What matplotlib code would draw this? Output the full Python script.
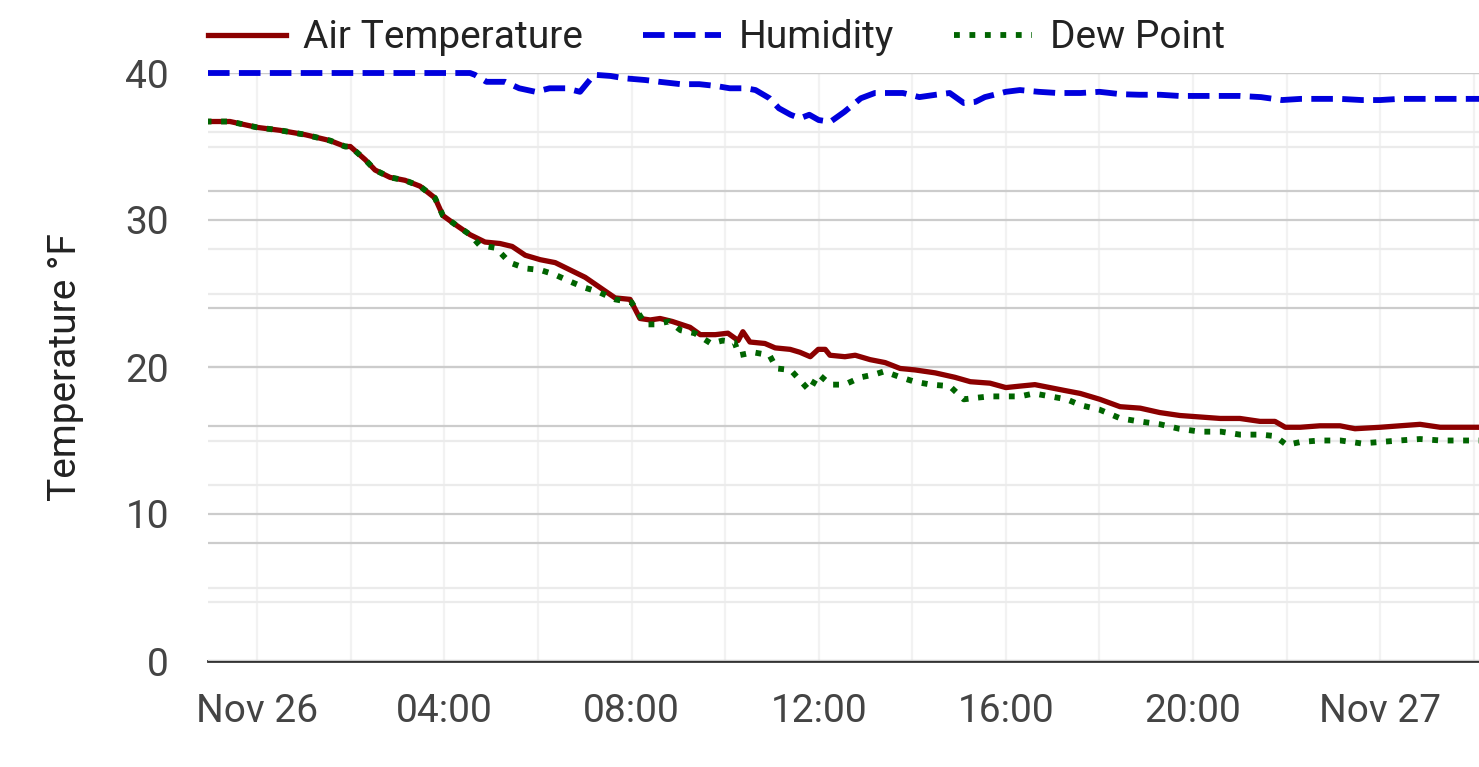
import datetime as dt
import matplotlib
matplotlib.use("Agg")
import matplotlib.pyplot as plt
import matplotlib.dates as mdates
from matplotlib.ticker import MultipleLocator, NullFormatter

plt.rcParams['font.family'] = ['Roboto', 'DejaVu Sans']

# hours after Nov 26 00:00
air_hours = [-1.10, -0.58, 0.00, 0.49, 1.03, 1.56, 1.88, 1.99, 2.31, 2.52, 2.84, 3.16,
             3.48, 3.80, 3.97, 4.23, 4.55, 4.87, 5.19, 5.45, 5.73, 6.05, 6.37, 6.69,
             7.01, 7.33, 7.65, 7.97, 8.18, 8.40, 8.61, 8.87, 9.25, 9.47, 9.79, 10.06,
             10.28, 10.38, 10.53, 10.85, 11.07, 11.39, 11.60, 11.82, 11.99, 12.14, 12.24,
             12.56, 12.78, 13.10, 13.42, 13.74, 14.06, 14.49, 14.91, 15.24, 15.66, 16.00,
             16.30, 16.62, 16.94, 17.26, 17.59, 18.01, 18.44, 18.87, 19.29, 19.72, 20.15,
             20.58, 21.00, 21.43, 21.75, 21.97, 22.29, 22.71, 23.14, 23.46, 24.00, 24.42,
             24.85, 25.28, 25.71, 26.20]
air_temp = [36.7, 36.7, 36.3, 36.1, 35.8, 35.4, 35.0, 35.0, 34.1, 33.4, 32.9, 32.7,
            32.3, 31.5, 30.3, 29.7, 29.0, 28.5, 28.4, 28.2, 27.6, 27.3, 27.1, 26.6,
            26.1, 25.4, 24.7, 24.6, 23.3, 23.2, 23.3, 23.1, 22.7, 22.2, 22.2, 22.3,
            21.8, 22.4, 21.7, 21.6, 21.3, 21.2, 21.0, 20.7, 21.2, 21.2, 20.8,
            20.7, 20.8, 20.5, 20.3, 19.9, 19.8, 19.6, 19.3, 19.0, 18.9, 18.6,
            18.7, 18.8, 18.6, 18.4, 18.2, 17.8, 17.3, 17.2, 16.9, 16.7, 16.6,
            16.5, 16.5, 16.3, 16.3, 15.9, 15.9, 16.0, 16.0, 15.8, 15.9, 16.0,
            16.1, 15.9, 15.9, 15.9]

dew_hours = [-1.10, -0.58, 0.00, 0.49, 1.03, 1.56, 1.88, 1.99, 2.31, 2.52, 2.84, 3.16,
             3.48, 3.80, 3.97, 4.23, 4.55, 4.75, 5.10, 5.40, 5.75, 6.05, 6.35, 6.70,
             7.00, 7.30, 7.65, 8.00, 8.30, 8.50, 8.80, 9.05, 9.35, 9.70, 9.95, 10.20,
             10.30, 10.60, 10.95, 11.10, 11.40, 11.60, 11.80, 12.00, 12.25, 12.55, 12.90,
             13.20, 13.40, 13.75, 14.05, 14.40, 14.80, 15.10, 15.35, 15.65, 16.00, 16.30,
             16.60, 16.95, 17.30, 17.60, 18.00, 18.45, 18.85, 19.30, 19.70, 20.15, 20.60,
             21.00, 21.45, 21.75, 22.00, 22.30, 22.70, 23.15, 23.60, 24.00, 24.40, 24.85,
             25.30, 25.70, 26.20]
dew_point = [36.7, 36.7, 36.3, 36.1, 35.8, 35.4, 35.0, 35.0, 34.1, 33.4, 32.9, 32.7,
             32.3, 31.5, 30.3, 29.7, 29.0, 28.3, 28.1, 27.1, 26.7, 26.6, 26.3, 25.8,
             25.4, 25.1, 24.6, 24.4, 22.9, 22.9, 23.1, 22.5, 22.3, 21.6, 21.8, 21.7,
             20.8, 21.0, 20.8, 19.9, 19.8, 19.1, 18.4, 19.5, 18.8, 18.8, 19.3,
             19.5, 19.7, 19.3, 19.0, 18.8, 18.7, 17.8, 17.9, 18.0, 18.0, 18.0,
             18.2, 18.0, 17.8, 17.4, 17.1, 16.5, 16.3, 16.1, 15.8, 15.6, 15.6,
             15.4, 15.4, 15.3, 14.7, 14.9, 15.0, 15.0, 14.8, 14.9, 15.0, 15.1,
             15.0, 15.0, 15.0]

hum_hours = [-1.05, 0.00, 2.00, 4.00, 4.55, 4.65, 4.90, 5.30, 5.60, 5.95, 6.25, 6.60,
             6.90, 7.20, 7.55, 7.85, 8.30, 8.60, 9.05, 9.45, 9.80, 10.10, 10.45, 10.65,
             10.95, 11.15, 11.40, 11.60, 11.80, 12.00, 12.25, 12.55, 12.90, 13.20, 13.50,
             13.80, 14.15, 14.50, 14.80, 15.10, 15.35, 15.55, 16.00, 16.30, 16.70, 17.10,
             17.60, 18.00, 18.45, 18.85, 19.30, 19.70, 20.15, 20.60, 21.00, 21.45, 21.90,
             22.30, 22.70, 23.15, 23.60, 24.00, 24.40, 24.85, 25.30, 25.70, 26.20]
humidity = [100.0, 100.0, 100.0, 100.0, 100.0, 99.7, 98.5, 98.5, 97.4, 96.8, 97.4, 97.4,
            96.8, 99.7, 99.5, 99.1, 98.8, 98.5, 98.1, 98.1, 97.8, 97.4, 97.4, 97.1,
            95.7, 94.0, 92.9, 92.3, 92.9, 92.0, 91.7, 93.4, 95.7, 96.6, 96.6,
            96.6, 95.9, 96.3, 96.6, 94.9, 95.1, 95.9, 96.8, 97.1, 96.8, 96.6,
            96.6, 96.8, 96.4, 96.3, 96.3, 96.1, 96.1, 96.1, 96.1, 95.9, 95.4,
            95.6, 95.6, 95.6, 95.4, 95.4, 95.6, 95.6, 95.6, 95.6, 95.6]

start = dt.datetime(2023, 11, 26)


def to_times(hours):
    return [start + dt.timedelta(hours=h) for h in hours]


fig = plt.figure(figsize=(14.79, 7.67), dpi=100)
ax_h = fig.add_axes([208 / 1479, 106 / 767, 1 - 208 / 1479, 588 / 767])
ax = ax_h.twinx()
ax_top = ax_h.twinx()

grid_dark = '#cccccc'
grid_light = '#ebebeb'

# humidity scale: only gridlines, at the bottom
ax_h.set_ylim(0, 100)
ax_h.yaxis.set_major_locator(MultipleLocator(20))
ax_h.yaxis.set_minor_locator(MultipleLocator(10))
ax_h.grid(True, axis='y', which='major', color=grid_dark, lw=1.6)
ax_h.grid(True, axis='y', which='minor', color=grid_light, lw=1.6)
ax_h.xaxis.set_major_locator(mdates.HourLocator(byhour=range(0, 24, 4)))
ax_h.xaxis.set_minor_locator(mdates.HourLocator(byhour=range(0, 24, 2)))
ax_h.grid(True, axis='x', which='both', color='#f2f2f2', lw=1.6)
ax_h.tick_params(axis='y', which='both', length=0, labelleft=False, labelright=False)


def fmt_date(x, pos=None):
    d = mdates.num2date(x)
    if d.hour == 0 and d.minute == 0:
        return d.strftime('%b %d')
    return d.strftime('%H:%M')


ax_h.xaxis.set_major_formatter(plt.FuncFormatter(fmt_date))
ax_h.xaxis.set_minor_formatter(NullFormatter())
ax_h.tick_params(axis='x', which='both', length=0, pad=23, labelsize=28, labelcolor='#444444')
for s in ['left', 'right', 'top']:
    ax_h.spines[s].set_visible(False)
ax_h.spines['bottom'].set_color('#333333')
ax_h.spines['bottom'].set_linewidth(2)
ax_h.spines['bottom'].set_zorder(5)

# temperature scale
ax.set_ylim(0, 40)
ax.yaxis.set_major_locator(MultipleLocator(10))
ax.yaxis.set_minor_locator(MultipleLocator(5))
ax.grid(True, axis='y', which='major', color=grid_dark, lw=1.6, zorder=0)
ax.grid(True, axis='y', which='minor', color=grid_light, lw=1.6, zorder=0)
ax.yaxis.set_label_position('left')
ax.yaxis.tick_left()
ax.tick_params(axis='y', which='both', length=0, pad=28, labelsize=28, labelcolor='#444444')
ax.set_ylabel('Temperature °F', fontsize=28, color='#222222', labelpad=30)
for s in ax.spines.values():
    s.set_visible(False)
ax.patch.set_visible(False)

l1, = ax.plot(to_times(air_hours), air_temp, color='#8b0000', lw=3.8, label='Air Temperature', zorder=3)
l3, = ax.plot(to_times(dew_hours), dew_point, color='#006400', lw=4.2, ls=':', label='Dew Point', zorder=4)

# humidity line on its own axes above the grids (not clipped at the top edge)
ax_top.set_ylim(0, 100)
ax_top.axis('off')
l2, = ax_top.plot(to_times(hum_hours), humidity, color='#0000dd', lw=4.2, ls='--',
                  label='Humidity', clip_on=False)

ax_h.set_xlim(start - dt.timedelta(hours=1.05), start + dt.timedelta(hours=26.11))

fig.legend(handles=[l1, l2, l3], loc='center left', bbox_to_anchor=(208 / 1479, 1 - 38 / 767),
           ncol=3, frameon=False, fontsize=28, handlelength=2.0, handletextpad=0.45,
           columnspacing=1.55, borderpad=0, borderaxespad=0, labelcolor='#222222')

fig.savefig('out.png', dpi=100)
